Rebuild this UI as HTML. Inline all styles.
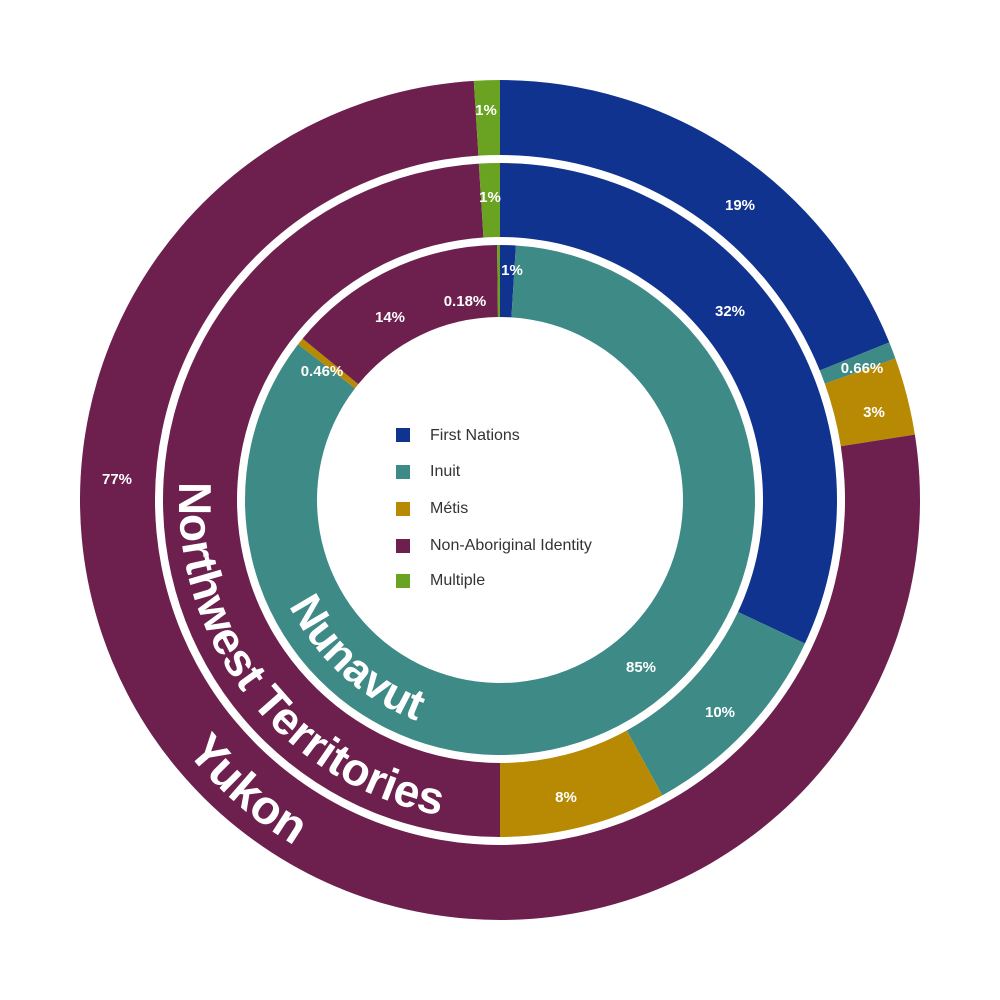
<!DOCTYPE html>
<html><head><meta charset="utf-8"><style>
html,body{margin:0;padding:0;background:#fff;width:1000px;height:1000px;overflow:hidden}
svg{display:block}
.p{fill:#fff;font-family:"Liberation Sans",sans-serif;font-weight:bold;font-size:15px;text-anchor:middle;dominant-baseline:middle}
.lg{fill:#333;font-family:"Liberation Sans",sans-serif;font-size:16px;dominant-baseline:middle}
.ring{fill:#fff;font-family:"Liberation Sans",sans-serif;font-weight:bold;text-anchor:middle}
</style></head><body>
<svg id="s" width="1000" height="1000" viewBox="0 0 1000 1000" xmlns="http://www.w3.org/2000/svg">
<g id="arcs"></g>
<defs>
<path id="py"/><path id="pn"/><path id="pu"/>
</defs>
<text class="ring" font-size="48"><textPath href="#py" startOffset="50%">Yukon</textPath></text>
<text class="ring" font-size="46"><textPath href="#pn" startOffset="50%">Northwest Territories</textPath></text>
<text class="ring" font-size="44"><textPath href="#pu" startOffset="50%">Nunavut</textPath></text>
<text class="p" x="740" y="206">19%</text>
<text class="p" x="862" y="369">0.66%</text>
<text class="p" x="874" y="413">3%</text>
<text class="p" x="117" y="480">77%</text>
<text class="p" x="486" y="111">1%</text>
<text class="p" x="730" y="312">32%</text>
<text class="p" x="720" y="713">10%</text>
<text class="p" x="566" y="798">8%</text>
<text class="p" x="490" y="198">1%</text>
<text class="p" x="512" y="271">1%</text>
<text class="p" x="641" y="668">85%</text>
<text class="p" x="322" y="372">0.46%</text>
<text class="p" x="390" y="318">14%</text>
<text class="p" x="465" y="302">0.18%</text>
<rect x="396" y="428" width="14" height="14" fill="#10338f"/><text class="lg" x="430" y="436">First Nations</text>
<rect x="396" y="465" width="14" height="14" fill="#3e8a87"/><text class="lg" x="430" y="472">Inuit</text>
<rect x="396" y="502" width="14" height="14" fill="#b88a04"/><text class="lg" x="430" y="509">Métis</text>
<rect x="396" y="539" width="14" height="14" fill="#6d1f4e"/><text class="lg" x="430" y="546">Non-Aboriginal Identity</text>
<rect x="396" y="574" width="14" height="14" fill="#6aa222"/><text class="lg" x="430" y="581">Multiple</text>
</svg>
<script>
var C=["#10338f","#3e8a87","#b88a04","#6d1f4e","#6aa222"];
function pt(r,a){a=a*Math.PI/180;return [500+r*Math.sin(a),500-r*Math.cos(a)];}
function seg(r0,r1,a0,a1){var l=(a1-a0)>180?1:0;var p1=pt(r1,a0),p2=pt(r1,a1),p3=pt(r0,a1),p4=pt(r0,a0);
return "M"+p1+"A"+r1+","+r1+" 0 "+l+" 1 "+p2+"L"+p3+"A"+r0+","+r0+" 0 "+l+" 0 "+p4+"Z";}
var rings=[[345,420,[19,0.66,3,77,1]],[263,337,[32,10,8,49,1]],[183,255,[1,85,0.46,14,0.18]]];
var g=document.getElementById("arcs"),h="";
rings.forEach(function(R){var t=R[2].reduce(function(a,b){return a+b},0),a=0;
R[2].forEach(function(v,i){var b=a+v/t*360;h+='<path d="'+seg(R[0],R[1],a,b)+'" fill="'+C[i]+'"/>';a=b;});});
g.innerHTML=h;
function ccw(id,r,mid,span){var a1=mid+span/2,a2=mid-span/2;var p1=pt(r,a1),p2=pt(r,a2);
document.getElementById(id).setAttribute("d","M"+p1+"A"+r+","+r+" 0 0 0 "+p2);}
ccw("py",402,221,170);
ccw("pn",321,232,170);
ccw("pu",236,222,170);
</script>
</body></html>
